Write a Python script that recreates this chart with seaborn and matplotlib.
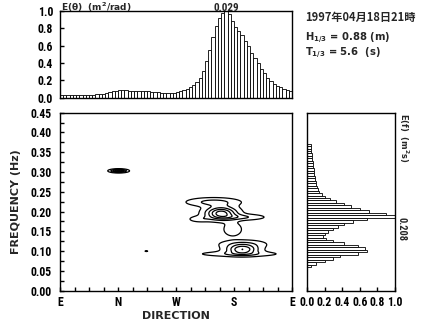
import numpy as np
import pandas as pd
import matplotlib
matplotlib.use("Agg")
import matplotlib.pyplot as plt
from matplotlib.ticker import MultipleLocator
import seaborn as sns

sns.set_theme(style="ticks")
plt.rcParams["font.family"] = ["Roboto Condensed", "DejaVu Sans"]
plt.rcParams["font.weight"] = "bold"
plt.rcParams["mathtext.default"] = "regular"
plt.rcParams["axes.linewidth"] = 1.0
WIDE = ["DejaVu Sans"]

# Directional spectrum E(theta), normalised; 5-degree bins (E=0, N=90, W=180, S=270, E=360)
theta_deg = [2.5 + 5 * i for i in range(72)]
e_theta = [0.03, 0.03, 0.03, 0.03, 0.03, 0.03, 0.03, 0.03, 0.03, 0.03,
           0.03, 0.035, 0.04, 0.045, 0.05, 0.06, 0.07, 0.08, 0.09, 0.09,
           0.085, 0.08, 0.075, 0.075, 0.08, 0.08, 0.075, 0.07, 0.065, 0.06,
           0.06, 0.055, 0.05, 0.05, 0.05, 0.055, 0.06, 0.07, 0.085, 0.10,
           0.12, 0.15, 0.18, 0.23, 0.31, 0.42, 0.55, 0.70, 0.83, 0.92,
           0.98, 1.00, 0.96, 0.88, 0.82, 0.77, 0.72, 0.65, 0.59, 0.52,
           0.46, 0.40, 0.33, 0.28, 0.23, 0.19, 0.16, 0.13, 0.12, 0.10,
           0.09, 0.08]
e_theta_max_label = "0.029"

# Frequency spectrum E(f), normalised
freq_hz = [round(0.0625 + 0.00625 * i, 5) for i in range(50)]
e_freq = [0.04, 0.10, 0.20, 0.30, 0.38, 0.58, 0.68, 0.66, 0.58, 0.42,
          0.30, 0.22, 0.18, 0.20, 0.24, 0.30, 0.35, 0.42, 0.52, 0.68,
          1.00, 0.90, 0.70, 0.60, 0.50, 0.42, 0.33, 0.26, 0.21, 0.17,
          0.14, 0.12, 0.11, 0.10, 0.10, 0.09, 0.09, 0.08, 0.08, 0.08,
          0.07, 0.07, 0.07, 0.06, 0.06, 0.06, 0.05, 0.05, 0.04, 0.04]
e_freq_max_label = "0.208"

# Directional-frequency spectrum: energy peaks (direction, frequency, spreads, amplitude)
peak_dir = [250, 238, 280, 268, 216, 283, 278, 284, 91, 134]
peak_freq = [0.196, 0.224, 0.186, 0.155, 0.181, 0.104, 0.093, 0.118, 0.303, 0.100]
peak_sdir = [16, 26, 24, 10, 11, 16, 42, 24, 8, 2.5]
peak_sfreq = [0.011, 0.007, 0.005, 0.012, 0.005, 0.008, 0.0045, 0.007, 0.0026, 0.0012]
peak_amp = [1.0, 0.38, 0.32, 0.25, 0.22, 0.85, 0.25, 0.28, 0.95, 0.14]
contour_levels = [0.1, 0.3, 0.5, 0.7, 0.9]

dir_ticks = [0, 90, 180, 270, 360]
dir_labels = ["E", "N", "W", "S", "E"]

W, H = 422, 325
fig = plt.figure(figsize=(W / 100, H / 100), dpi=100)


def box(l, t, r, b):
    return [l / W, 1 - b / H, (r - l) / W, (b - t) / H]


FS = 8.5
ax_top = fig.add_axes(box(60, 11, 292, 97.5))
ax_main = fig.add_axes(box(60, 112.7, 292, 290.7))
ax_side = fig.add_axes(box(307, 112.7, 395, 290.7))

# --- E(theta) bars
df_t = pd.DataFrame({"theta": theta_deg, "e": e_theta})
sns.barplot(data=df_t, x="theta", y="e", native_scale=True, width=1.0,
            color="white", edgecolor="black", linewidth=0.6, ax=ax_top)
ax_top.set_xlim(0, 360)
ax_top.set_ylim(0, 1.0)
ax_top.set_xticks([])
ax_top.set_yticks(np.arange(0, 1.01, 0.2))
ax_top.set_yticklabels([f"{v:.1f}" for v in np.arange(0, 1.01, 0.2)], fontsize=FS, fontweight="bold")
ax_top.tick_params(axis="y", direction="in", length=3, width=1, pad=5, colors="black")
ax_top.set_xlabel("")
ax_top.set_ylabel("")
pk = theta_deg[int(np.argmax(e_theta))]
ax_top.text(0.005, 1.0, r"E($\theta$)  (m$^2$/rad)", fontsize=6.5, fontweight="bold",
            family=WIDE, ha="left", va="baseline", transform=ax_top.transAxes)
ax_top.text(pk, 1.0, e_theta_max_label, fontsize=8, fontweight="bold",
            ha="center", va="baseline")

# --- directional-frequency contours
gd = np.linspace(0, 360, 721)
gf = np.linspace(0, 0.45, 451)
D, F = np.meshgrid(gd, gf)
Z = np.zeros_like(D)
for d0, f0, sd, sf, a in zip(peak_dir, peak_freq, peak_sdir, peak_sfreq, peak_amp):
    Z += a * np.exp(-0.5 * (((D - d0) / sd) ** 2 + ((F - f0) / sf) ** 2))
ax_main.contour(D, F, Z, levels=contour_levels, colors="black", linewidths=0.9)
ax_main.set_xlim(0, 360)
ax_main.set_ylim(0, 0.45)
ax_main.set_xticks(dir_ticks)
ax_main.set_xticklabels(dir_labels, fontsize=FS, fontweight="bold")
ax_main.xaxis.set_minor_locator(MultipleLocator(22.5))
ax_main.set_yticks(np.arange(0, 0.451, 0.05))
ax_main.set_yticklabels([f"{v:.2f}" for v in np.arange(0, 0.451, 0.05)], fontsize=FS, fontweight="bold")
ax_main.yaxis.set_minor_locator(MultipleLocator(0.025))
ax_main.tick_params(which="both", direction="in", length=3, width=1, colors="black")
ax_main.tick_params(axis="y", pad=6)
ax_main.tick_params(axis="x", pad=4)
ax_main.set_xlabel("DIRECTION", fontsize=8, fontweight="bold", family=WIDE, labelpad=1)
ax_main.set_ylabel("FREQUENCY (Hz)", fontsize=8, fontweight="bold", family=WIDE, labelpad=7)

# --- E(f) bars
df_f = pd.DataFrame({"f": freq_hz, "e": e_freq})
sns.barplot(data=df_f, x="e", y="f", orient="h", native_scale=True, width=1.0,
            color="white", edgecolor="black", linewidth=0.6, ax=ax_side)
ax_side.set_xlim(0, 1.0)
ax_side.set_ylim(0, 0.45)
ax_side.set_xticks(np.arange(0, 1.01, 0.2))
ax_side.set_xticklabels([f"{v:.1f}" for v in np.arange(0, 1.01, 0.2)], fontsize=FS, fontweight="bold")
fpk = freq_hz[int(np.argmax(e_freq))]
ax_side.yaxis.tick_right()
ax_side.set_yticks([fpk])
ax_side.set_yticklabels([""])
ax_side.tick_params(which="both", direction="in", length=3, width=1, colors="black")
ax_side.tick_params(axis="x", pad=4)
ax_side.set_xlabel("")
ax_side.set_ylabel("")
ax_side.text(1.02, 1.0, r"E(f)  (m$^2$s)", fontsize=6, fontweight="bold", rotation=-90,
             family=WIDE, ha="left", va="top", transform=ax_side.transAxes)
ax_side.text(1.02, fpk, e_freq_max_label, fontsize=7.5, fontweight="bold", rotation=-90,
             ha="left", va="top", transform=ax_side.get_yaxis_transform())

for ax in (ax_top, ax_main, ax_side):
    for s in ax.spines.values():
        s.set_visible(True)
        s.set_color("black")
        s.set_linewidth(1.0)

# --- header text
fig.text(305 / W, 1 - 17 / H, "1997年04月18日21時", fontsize=8, fontweight="bold",
         family=["Noto Sans CJK JP", "DejaVu Sans"], ha="left", va="center")
fig.text(305 / W, 1 - 38 / H, r"H$_{1/3}$ = 0.88 (m)", fontsize=7.2, fontweight="bold",
         family=WIDE, ha="left", va="center")
fig.text(305 / W, 1 - 53 / H, r"T$_{1/3}$ = 5.6  (s)", fontsize=7.2, fontweight="bold",
         family=WIDE, ha="left", va="center")

fig.savefig("out.png", dpi=100, facecolor="white")
